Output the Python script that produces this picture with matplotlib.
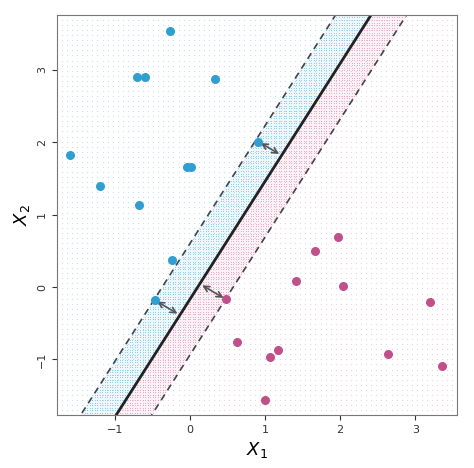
import numpy as np
import matplotlib.pyplot as plt

# observations
blue_x = [-0.27, -0.71, -0.60, 0.33, -1.59, -1.19, -0.04, 0.01, -0.68, 0.91, -0.24, -0.47]
blue_y = [3.54, 2.90, 2.90, 2.88, 1.82, 1.39, 1.66, 1.66, 1.13, 2.01, 0.37, -0.18]
red_x = [0.48, 0.63, 1.07, 1.17, 1.00, 1.41, 1.67, 1.97, 2.04, 2.64, 3.20, 3.36]
red_y = [-0.17, -0.76, -0.97, -0.87, -1.56, 0.08, 0.50, 0.69, 0.01, -0.92, -0.21, -1.09]

# hyperplane y = a + b*x, margins +- m
a, b, m = -0.17, 1.63, 0.77
support = [(0.91, 2.01), (-0.47, -0.18), (0.48, -0.17)]

blue = '#2e9fd0'
red = '#c0508a'
xlim = (-1.77, 3.56)
ylim = (-1.77, 3.76)

fig, ax = plt.subplots(figsize=(4.74, 4.68), dpi=100)
fig.subplots_adjust(left=0.12, right=0.965, bottom=0.113, top=0.968)

gx, gy = np.meshgrid(np.linspace(*xlim, 80), np.linspace(*ylim, 80))
side = gy > a + b * gx
ax.scatter(gx[side], gy[side], s=0.6, color=blue, alpha=0.35, lw=0)
ax.scatter(gx[~side], gy[~side], s=0.6, color=red, alpha=0.3, lw=0)

# finer dots inside the margin
fx_, fy_ = np.meshgrid(np.linspace(*xlim, 160), np.linspace(*ylim, 160))
inner = np.abs(fy_ - (a + b * fx_)) < m
up = fy_ > a + b * fx_
ax.scatter(fx_[inner & up], fy_[inner & up], s=0.5, color=blue, alpha=0.35, lw=0)
ax.scatter(fx_[inner & ~up], fy_[inner & ~up], s=0.5, color=red, alpha=0.3, lw=0)

xs = np.array(xlim)
ax.fill_between(xs, a + b * xs, a + m + b * xs, color='#eef8fc', zorder=0)
ax.fill_between(xs, a - m + b * xs, a + b * xs, color='#fcf2f6', zorder=0)
ax.plot(xs, a + b * xs, color='#222222', lw=2)
ax.plot(xs, a + m + b * xs, color='#444444', lw=1.2, ls=(0, (4, 3)))
ax.plot(xs, a - m + b * xs, color='#444444', lw=1.2, ls=(0, (4, 3)))

for px, py in support:
    t = (px + b * (py - a)) / (1 + b * b)
    fx, fy = t, a + b * t
    ax.annotate('', xy=(fx, fy), xytext=(px, py),
                arrowprops=dict(arrowstyle='<->', color='#555555', lw=1.2))

ax.scatter(blue_x, blue_y, s=30, color=blue, zorder=3)
ax.scatter(red_x, red_y, s=30, color=red, zorder=3)

ax.set_xlim(*xlim)
ax.set_ylim(*ylim)
ax.set_xticks([-1, 0, 1, 2, 3])
ax.set_yticks([-1, 0, 1, 2, 3])
ax.tick_params(labelsize=8, colors='#333333')
for lab in ax.get_yticklabels():
    lab.set_rotation(90)
    lab.set_va('center')
for s in ax.spines.values():
    s.set_color('#777777')
ax.set_xlabel('$X_1$', fontsize=13, family='serif')
ax.set_ylabel('$X_2$', fontsize=13, family='serif')

fig.savefig('out.png')
